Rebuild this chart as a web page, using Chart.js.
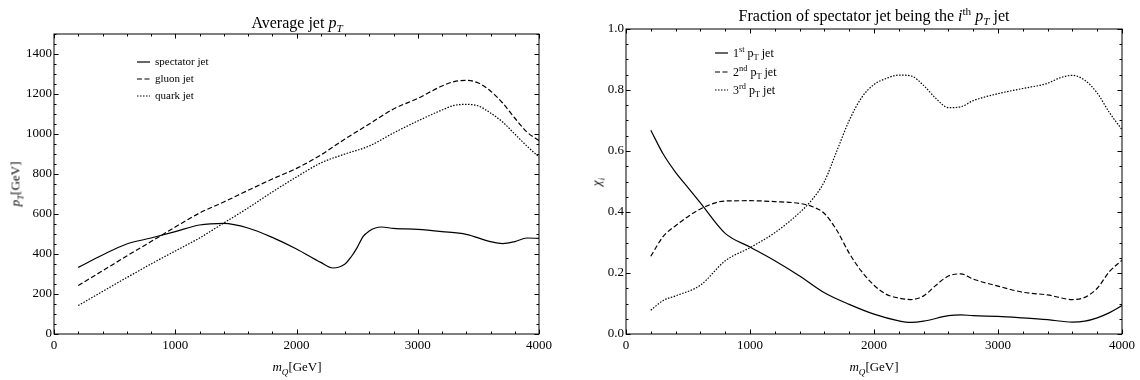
<!DOCTYPE html>
<html>
<head>
<meta charset="utf-8">
<script src="https://cdn.jsdelivr.net/npm/chart.js@4/dist/chart.umd.min.js"></script>
<style>
  body { margin: 0; background: #fff; font-family: "Liberation Serif", "DejaVu Serif", serif; color: #000; }
  #wrap { position: relative; width: 1140px; height: 380px; overflow: hidden; }
  canvas { position: absolute; top: 0; }
  .txt { position: absolute; white-space: nowrap; line-height: 1; }
  .title { font-size: 16px; transform: translateX(-50%); }
  .axt { font-size: 13px; transform: translateX(-50%); }
  .yt { font-size: 13px; transform: translate(-50%, -50%) rotate(-90deg); }
  .leg { font-size: 11px; display: flex; align-items: center; }
  .leg svg { margin-right: 5px; }
  sub, sup { font-size: 70%; line-height: 0; }
</style>
</head>
<body>
<div id="wrap">
  <canvas id="left" width="570" height="380" style="left:0"></canvas>
  <canvas id="right" width="570" height="380" style="left:570px"></canvas>

  <div class="txt title" style="left:297px; top:15px">Average jet <i>p<sub>T</sub></i></div>
  <div class="txt axt" style="left:297px; top:360px"><i>m<sub>Q</sub></i>[GeV]</div>
  <div class="txt yt" style="left:15px; top:184px"><i>p<sub>T</sub></i>[GeV]</div>

  <div class="txt title" style="left:874px; top:8px">Fraction of spectator jet being the <i>i</i><sup>th</sup> <i>p<sub>T</sub></i> jet</div>
  <div class="txt axt" style="left:874px; top:360px"><i>m<sub>Q</sub></i>[GeV]</div>
  <div class="txt yt" style="left:596px; top:182px"><i>χ<sub>i</sub></i></div>

  <div id="legLeft"></div>
  <div id="legRight"></div>
</div>
<script>
// left panel: average jet pT
const specMass = [200, 400, 600, 800, 1000, 1200, 1400, 1600, 1800, 2000, 2200, 2300, 2400, 2450, 2500, 2550, 2600, 2650, 2700, 2800, 3000, 3200, 3400, 3600, 3700, 3800, 3900, 4000];
const specPt = [333, 395, 450, 480, 512, 545, 553, 530, 483, 425, 358, 330, 350, 385, 432, 488, 515, 530, 535, 528, 523, 512, 498, 462, 452, 462, 480, 478];
const gluonMass = [200, 400, 600, 800, 1000, 1200, 1400, 1600, 1800, 2000, 2200, 2400, 2600, 2800, 3000, 3200, 3300, 3400, 3500, 3600, 3700, 3800, 3900, 4000];
const gluonPt = [242, 316, 390, 462, 535, 605, 660, 718, 775, 828, 895, 975, 1050, 1125, 1178, 1240, 1262, 1268, 1255, 1215, 1155, 1080, 1010, 967];
const quarkMass = [200, 400, 600, 800, 1000, 1200, 1400, 1600, 1800, 2000, 2200, 2400, 2600, 2800, 3000, 3200, 3300, 3400, 3500, 3600, 3700, 3800, 3900, 4000];
const quarkPt = [142, 212, 282, 350, 415, 480, 555, 630, 710, 785, 855, 900, 940, 1005, 1065, 1120, 1143, 1148, 1140, 1105, 1060, 1000, 940, 885];

// right panel: fraction of spectator jet being the i-th pT jet
const firstMass = [200, 300, 400, 500, 600, 800, 1000, 1200, 1400, 1600, 1800, 2000, 2200, 2300, 2400, 2600, 2700, 2800, 3000, 3200, 3400, 3600, 3700, 3800, 3900, 4000];
const firstFrac = [0.668, 0.59, 0.53, 0.48, 0.43, 0.33, 0.285, 0.24, 0.19, 0.135, 0.097, 0.065, 0.043, 0.038, 0.042, 0.06, 0.063, 0.06, 0.058, 0.053, 0.047, 0.039, 0.042, 0.053, 0.07, 0.093];
const secondMass = [200, 300, 400, 600, 800, 1000, 1200, 1400, 1500, 1600, 1700, 1800, 1900, 2000, 2100, 2200, 2300, 2400, 2500, 2600, 2700, 2800, 3000, 3200, 3400, 3600, 3700, 3800, 3900, 4000];
const secondFrac = [0.255, 0.32, 0.355, 0.41, 0.436, 0.437, 0.434, 0.428, 0.418, 0.395, 0.34, 0.265, 0.205, 0.16, 0.13, 0.118, 0.113, 0.125, 0.16, 0.19, 0.197, 0.18, 0.157, 0.137, 0.128, 0.113, 0.12, 0.15, 0.205, 0.242];
const thirdMass = [200, 300, 400, 600, 800, 1000, 1200, 1400, 1500, 1600, 1700, 1800, 1900, 2000, 2100, 2200, 2300, 2400, 2500, 2600, 2700, 2800, 3000, 3200, 3400, 3500, 3600, 3700, 3800, 3900, 4000];
const thirdFrac = [0.078, 0.11, 0.125, 0.16, 0.24, 0.283, 0.332, 0.398, 0.44, 0.5, 0.6, 0.7, 0.775, 0.818, 0.838, 0.849, 0.846, 0.815, 0.772, 0.742, 0.745, 0.765, 0.788, 0.805, 0.822, 0.84, 0.848, 0.832, 0.79, 0.725, 0.67];

const massTicks = [0, 1000, 2000, 3000, 4000];
const ptTicks = [0, 200, 400, 600, 800, 1000, 1200, 1400];
const fracTicks = [0, 0.2, 0.4, 0.6, 0.8, 1.0];

const leftLegend = ["spectator jet", "gluon jet", "quark jet"];
const rightLegend = ["1<sup>st</sup> p<sub>T</sub> jet", "2<sup>nd</sup> p<sub>T</sub> jet", "3<sup>rd</sup> p<sub>T</sub> jet"];

const dashes = [[], [5, 2.5], [1.5, 1.5]];
const tickFont = { family: "Liberation Serif", size: 13 };

function toPoints(xs, ys) {
  return xs.map((x, i) => ({ x, y: ys[i] }));
}

function lineSet(xs, ys, idx) {
  return {
    data: toPoints(xs, ys),
    borderColor: "#000",
    borderWidth: 1.2,
    borderDash: dashes[idx],
    pointRadius: 0,
    fill: false,
    cubicInterpolationMode: "monotone",
  };
}

// frame with inward major + minor ticks on all four sides
const framePlugin = {
  id: "frame",
  afterDraw(chart, args, opts) {
    const { ctx, chartArea: a, scales } = chart;
    ctx.save();
    ctx.strokeStyle = "#000";
    ctx.lineWidth = 1;
    ctx.strokeRect(a.left, a.top, a.right - a.left, a.bottom - a.top);
    const drawX = (step, len) => {
      for (let v = scales.x.min; v <= scales.x.max + 1e-9; v += step) {
        const px = Math.round(scales.x.getPixelForValue(v)) + 0.5;
        ctx.beginPath();
        ctx.moveTo(px, a.bottom); ctx.lineTo(px, a.bottom - len);
        ctx.moveTo(px, a.top); ctx.lineTo(px, a.top + len);
        ctx.stroke();
      }
    };
    const drawY = (step, len) => {
      for (let v = scales.y.min; v <= scales.y.max + 1e-9; v += step) {
        const py = Math.round(scales.y.getPixelForValue(v)) + 0.5;
        ctx.beginPath();
        ctx.moveTo(a.left, py); ctx.lineTo(a.left + len, py);
        ctx.moveTo(a.right, py); ctx.lineTo(a.right - len, py);
        ctx.stroke();
      }
    };
    drawX(opts.xMinor, 2.5);
    drawX(opts.xMajor, 4.5);
    drawY(opts.yMinor, 2.5);
    drawY(opts.yMajor, 4.5);
    ctx.restore();
  }
};

function makeChart(id, sets, cfg) {
  return new Chart(document.getElementById(id), {
    type: "line",
    data: { datasets: sets },
    plugins: [framePlugin],
    options: {
      responsive: false,
      animation: false,
      layout: { padding: { top: cfg.top, right: cfg.right, left: 0, bottom: 0 } },
      plugins: {
        legend: { display: false },
        tooltip: { enabled: false },
        frame: cfg.frame,
      },
      scales: {
        x: {
          type: "linear", min: 0, max: 4000,
          grid: { display: false, drawTicks: false },
          border: { display: false },
          ticks: { color: "#000", font: tickFont, padding: 4, maxRotation: 0, callback: v => String(v) },
          afterBuildTicks: s => { s.ticks = massTicks.map(v => ({ value: v })); },
          afterFit: s => { s.height = 46; },
        },
        y: {
          type: "linear", min: cfg.yMin, max: cfg.yMax,
          grid: { display: false, drawTicks: false },
          border: { display: false },
          ticks: { color: "#000", font: tickFont, padding: 2, callback: cfg.fmt },
          afterBuildTicks: s => { s.ticks = cfg.yTicks.map(v => ({ value: v })); },
          afterFit: s => { s.width = cfg.yWidth; },
        },
      },
    },
  });
}

makeChart("left", [
  lineSet(specMass, specPt, 0),
  lineSet(gluonMass, gluonPt, 1),
  lineSet(quarkMass, quarkPt, 2),
], {
  top: 34, right: 31, yWidth: 54, yMin: 0, yMax: 1500, yTicks: ptTicks,
  fmt: v => String(v),
  frame: { xMajor: 1000, xMinor: 200, yMajor: 200, yMinor: 50 },
});

makeChart("right", [
  lineSet(firstMass, firstFrac, 0),
  lineSet(secondMass, secondFrac, 1),
  lineSet(thirdMass, thirdFrac, 2),
], {
  top: 29, right: 18, yWidth: 56, yMin: 0, yMax: 1, yTicks: fracTicks,
  fmt: v => v.toFixed(1),
  frame: { xMajor: 1000, xMinor: 200, yMajor: 0.2, yMinor: 0.05 },
});

// legends: short line sample + label
function buildLegend(el, labels, left, top, gap, fontSize) {
  labels.forEach((lab, i) => {
    const row = document.createElement("div");
    row.className = "txt leg";
    row.style.left = left + "px";
    row.style.top = (top + i * gap - 6) + "px";
    row.style.fontSize = fontSize + "px";
    const dash = dashes[i].length ? `stroke-dasharray="${dashes[i].join(" ")}"` : "";
    row.innerHTML = `<svg width="13" height="4"><line x1="0" y1="2" x2="13" y2="2" stroke="#000" stroke-width="1.2" ${dash}/></svg><span>${lab}</span>`;
    el.appendChild(row);
  });
}
buildLegend(document.getElementById("legLeft"), leftLegend, 137, 62, 17, 11);
buildLegend(document.getElementById("legRight"), rightLegend, 715, 53, 18.5, 12);
</script>
</body>
</html>
